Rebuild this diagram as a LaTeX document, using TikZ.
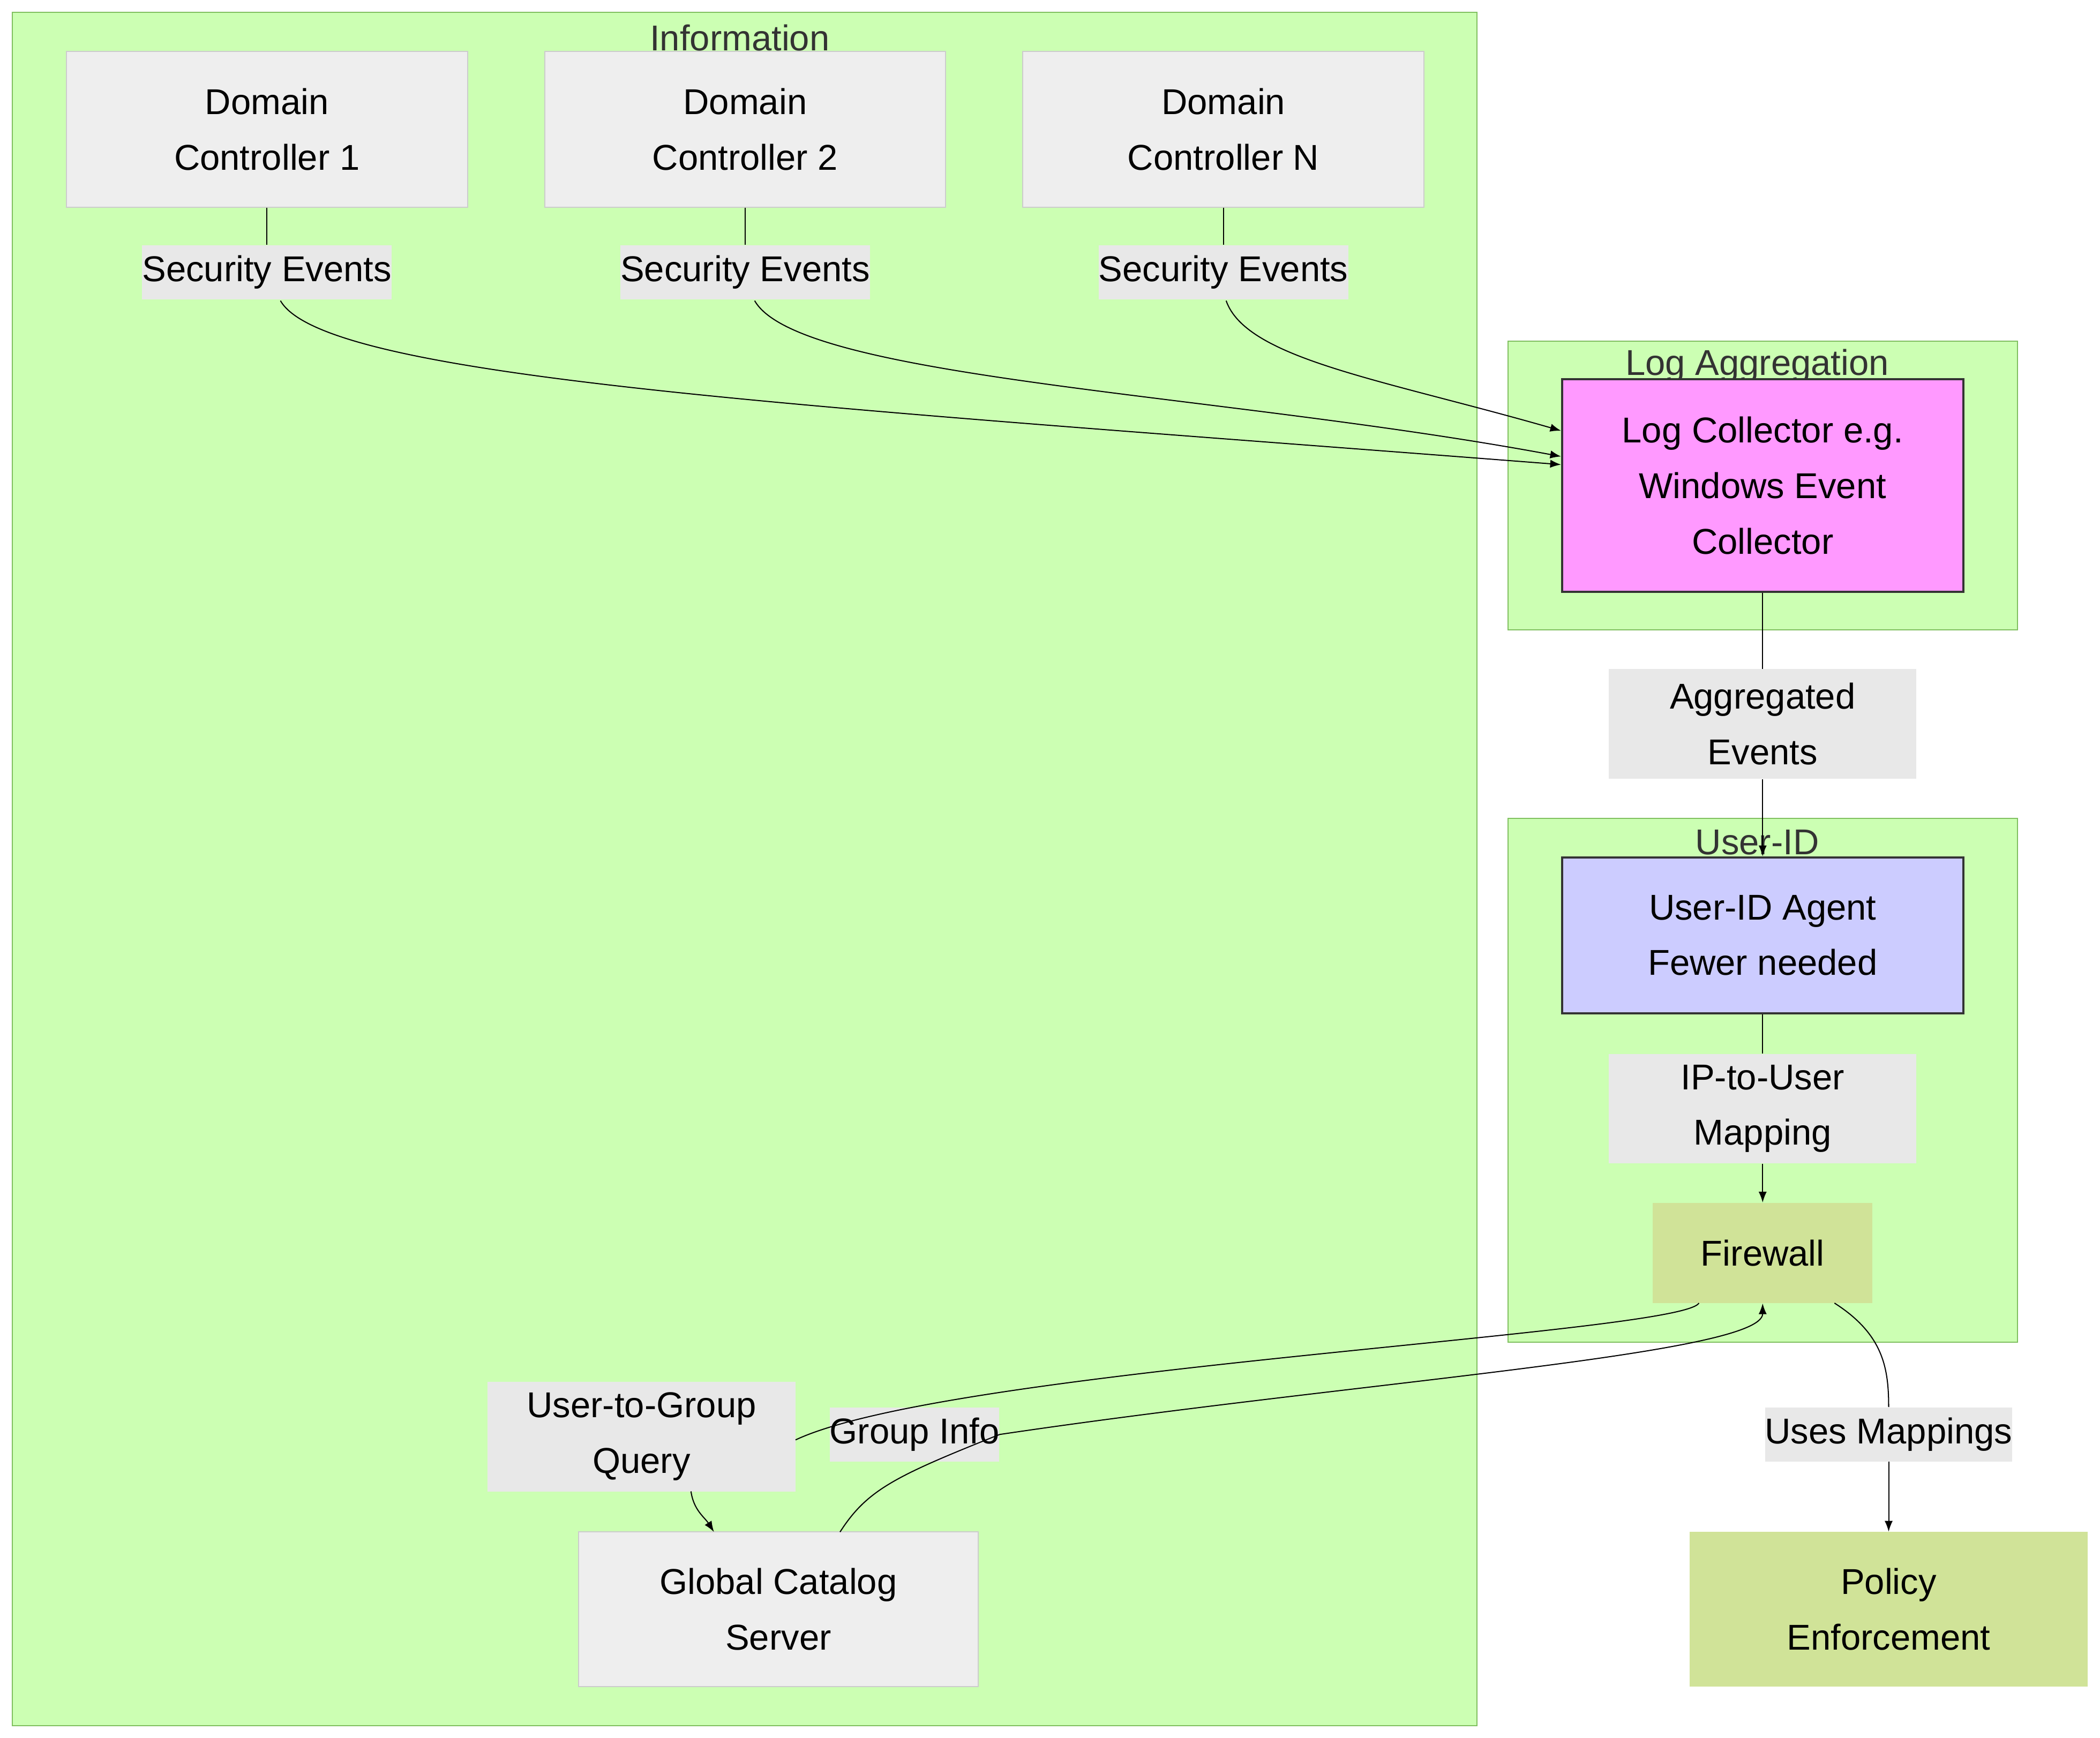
\documentclass[tikz,border=0pt]{standalone}
\usepackage{fontspec}
\setmainfont{Liberation Sans}
\usetikzlibrary{arrows.meta}
\definecolor{clfill}{HTML}{CCFFB3}
\definecolor{clline}{HTML}{7FBF5F}
\definecolor{ndfill}{HTML}{EEEEEE}
\definecolor{ndline}{HTML}{CCCCCC}
\definecolor{lbfill}{HTML}{E8E8E8}
\definecolor{fwfill}{HTML}{D0E398}
\begin{document}
\begin{tikzpicture}[x=1pt,y=-1pt,
  every node/.style={font=\fontsize{26.5}{41}\selectfont,align=center,inner sep=0pt},
  cluster/.style={draw=clline,fill=clfill,line width=0.8pt},
  ctitle/.style={text=black!80},
  nd/.style={draw=ndline,fill=ndfill,line width=0.8pt},
  lbl/.style={fill=lbfill,inner sep=0pt},
  edge/.style={line width=0.8pt,-{Latex[length=8pt,width=6pt]}},
  plain/.style={line width=0.8pt}]
\useasboundingbox (0,0) rectangle (1550,1283);
% clusters
\path[cluster] (9,9) rectangle (1090,1274);
\node[ctitle] (tInfo) at (546,28) {Information};
\path[cluster] (1113,252) rectangle (1489,465);
\node[ctitle] (tLog) at (1297,270) {Log Aggregation};
\path[cluster] (1113,604) rectangle (1489,991);
\node[ctitle] (tUid) at (1297,622) {User-ID};
% nodes
\node[nd,minimum width=296pt,minimum height=115pt] (dc1) at (197,95.5) {Domain\\Controller 1};
\node[nd,minimum width=296pt,minimum height=115pt] (dc2) at (550,95.5) {Domain\\Controller 2};
\node[nd,minimum width=296pt,minimum height=115pt] (dcn) at (903,95.5) {Domain\\Controller N};
\node[draw=black!80,line width=1.6pt,fill={rgb,255:red,255;green,153;blue,255},minimum width=296pt,minimum height=157pt] (lc) at (1301,358.5) {Log Collector e.g.\\Windows Event\\Collector};
\node[draw=black!80,line width=1.6pt,fill={rgb,255:red,204;green,204;blue,255},minimum width=296pt,minimum height=115pt] (ag) at (1301,690.5) {User-ID Agent\\Fewer needed};
\node[fill=fwfill,minimum width=162pt,minimum height=74pt] (fw) at (1301,925) {Firewall};
\node[fill=fwfill,minimum width=294pt,minimum height=114pt] (pe) at (1394,1188) {Policy\\Enforcement};
\node[nd,minimum width=295pt,minimum height=114pt] (gc) at (574.5,1188) {Global Catalog\\Server};
% labels
\node[lbl,minimum height=40pt] (l1) at (197,201) {Security Events};
\node[lbl,minimum height=40pt] (l2) at (550,201) {Security Events};
\node[lbl,minimum height=40pt] (l3) at (903,201) {Security Events};
\node[lbl,minimum width=227pt,minimum height=81pt] (la) at (1301,534.5) {Aggregated\\Events};
\node[lbl,minimum width=227pt,minimum height=81pt] (lm) at (1301,818.5) {IP-to-User\\Mapping};
\node[lbl,minimum height=40pt] (lu) at (1394,1059) {Uses Mappings};
\node[lbl,minimum width=227pt,minimum height=81pt] (lq) at (473.5,1060.5) {User-to-Group\\Query};
\node[lbl,minimum height=40pt] (lg) at (675,1059) {Group Info};
% edges
\draw[plain] (dc1.south) -- (l1.north);
\draw[plain] (dc2.south) -- (l2.north);
\draw[plain] (dcn.south) -- (l3.north);
\draw[edge] (207,222) .. controls (240,280) and (600,300) .. (lc.west |- 0,343);
\draw[edge] (557,222) .. controls (590,280) and (900,290) .. (lc.west |- 0,337);
\draw[edge] (905,222) .. controls (920,265) and (1020,280) .. (lc.west |- 0,318);
\draw[plain] (lc.south) -- (la.north);
\draw[edge] (la.south) -- (ag.north);
\draw[plain] (ag.south) -- (lm.north);
\draw[edge] (lm.south) -- (fw.north);
\draw[plain] (1354,962) .. controls (1390,985) and (1394,1010) .. (lu.north);
\draw[edge] (lu.south) -- (pe.north);
\coordinate (q1) at (1254,962);
\draw[plain] (q1) .. controls (1240,985) and (700,1010) .. (lq.east |- 0,1063);
\draw[edge] (510,1101) .. controls (512,1115) and (520,1120) .. (527,1131);
\draw[plain] (620,1131) .. controls (640,1100) and (660,1090) .. (lg.east);
\draw[edge] (lg.east) .. controls (1000,1020) and (1301,1000) .. (fw.south);
\end{tikzpicture}
\end{document}
